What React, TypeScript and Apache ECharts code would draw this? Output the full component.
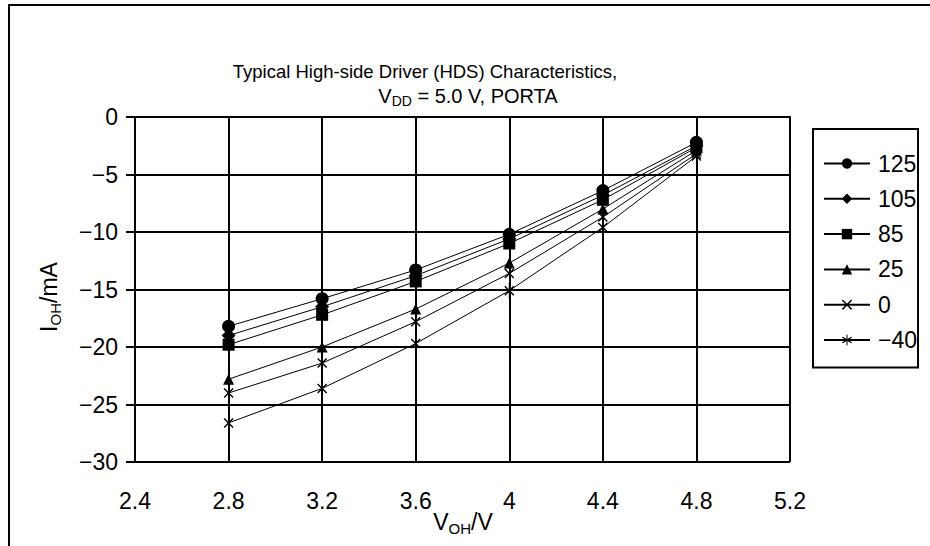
import React, { useEffect, useRef } from "react";
import * as echarts from "echarts";

const xValues = [2.8, 3.2, 3.6, 4.0, 4.4, 4.8];
const seriesNames = ["125", "105", "85", "25", "0", "−40"];
const s125 = [-18.2, -15.8, -13.3, -10.2, -6.4, -2.2];
const s105 = [-19.0, -16.5, -13.8, -10.6, -6.8, -2.5];
const s85 = [-19.8, -17.2, -14.3, -11.0, -7.2, -2.65];
const s25 = [-22.8, -20.0, -16.7, -12.7, -8.0, -2.9];
const s0 = [-24.0, -21.4, -17.8, -13.6, -8.7, -3.2];
const sMinus40 = [-26.6, -23.6, -19.7, -15.1, -9.6, -3.4];
const seriesValues = [s125, s105, s85, s25, s0, sMinus40];

const FONT = '"Liberation Sans", Arial, Helvetica, sans-serif';

const crossPath =
  "path://M0,1 L1,0 L5,4 L9,0 L10,1 L6,5 L10,9 L9,10 L5,6 L1,10 L0,9 L4,5 Z";
const starPath =
  "path://M0,4 L1,3 L5,7 L9,3 L10,4 L6,8 L10,12 L9,13 L5,9 L1,13 L0,12 L4,8 Z M4.5,0 L5.5,0 L5.5,16 L4.5,16 Z";

const symbols: any[] = ["circle", "diamond", "rect", "triangle", crossPath, starPath];
const symbolSizes: any[] = [13, 14, 12, 11, 10, [10, 16]];

const fmtNum = (v: number) => {
  const r = Math.round(v * 10) / 10;
  return String(r).replace("-", "\u2212");
};

export default function App() {
  const ref = useRef<HTMLDivElement>(null);
  useEffect(() => {
    document.body.style.margin = "0";
    const chart = echarts.init(ref.current!, null, { renderer: "svg" });
    const series = seriesNames.map((name, i) => ({
      name,
      type: "line",
      data: xValues.map((x, j) => [x, seriesValues[i][j]]),
      symbol: symbols[i],
      symbolSize: symbolSizes[i],
      showAllSymbol: true,
      lineStyle: { color: "#000", width: 1 },
      itemStyle: { color: "#000" },
      z: 3,
    }));
    const titleRich = {
      n: { fontSize: 20, fontFamily: FONT, color: "#000", lineHeight: 24, verticalAlign: "middle" },
      s: { fontSize: 14, fontFamily: FONT, color: "#000", lineHeight: 14, verticalAlign: "bottom" },
    };
    const nameRich = {
      n: { fontSize: 23, fontFamily: FONT, color: "#000", lineHeight: 28, verticalAlign: "middle" },
      s: { fontSize: 15, fontFamily: FONT, color: "#000", lineHeight: 15, verticalAlign: "bottom" },
    };
    chart.setOption({
      animation: false,
      backgroundColor: "#fff",
      grid: { left: 135, top: 117, width: 655, height: 345, containLabel: false },
      xAxis: {
        type: "value",
        min: 2.4,
        max: 5.2,
        interval: 0.4,
        axisLine: { show: true, lineStyle: { color: "#000", width: 2 } },
        axisTick: { show: true, length: 8, lineStyle: { color: "#000", width: 2 } },
        axisLabel: { color: "#000", fontSize: 23, fontFamily: FONT, margin: 27, formatter: fmtNum },
        splitLine: { show: true, lineStyle: { color: "#000", width: 2 } },
      },
      yAxis: {
        type: "value",
        min: -30,
        max: 0,
        interval: 5,
        axisLine: { show: true, lineStyle: { color: "#000", width: 2 } },
        axisTick: { show: true, length: 9, lineStyle: { color: "#000", width: 2 } },
        axisLabel: { color: "#000", fontSize: 23, fontFamily: FONT, margin: 17, formatter: fmtNum },
        splitLine: { show: true, lineStyle: { color: "#000", width: 2 } },
      },
      legend: {
        orient: "vertical",
        left: 813,
        top: 129,
        padding: [23, 1, 16, 10],
        borderColor: "#000",
        borderWidth: 2,
        itemWidth: 46,
        itemHeight: 13,
        itemGap: 12.3,
        data: seriesNames,
        textStyle: { color: "#000", fontSize: 23, fontFamily: FONT, lineHeight: 22, padding: [0, 0, 0, 3] },
      },
      graphic: [
        { type: "line", shape: { x1: 8, y1: 5, x2: 930, y2: 5 }, style: { stroke: "#000", lineWidth: 2 } },
        { type: "line", shape: { x1: 9, y1: 4, x2: 9, y2: 546 }, style: { stroke: "#000", lineWidth: 2 } },
        {
          type: "text",
          x: 425,
          y: 71,
          style: {
            text: "Typical High-side Driver (HDS) Characteristics,",
            fontSize: 18.5,
            fontFamily: FONT,
            fill: "#000",
            align: "center",
            verticalAlign: "middle",
          },
        },
        {
          type: "text",
          x: 468,
          y: 96,
          style: {
            text: "{n|V}{s|DD}{n| = 5.0 V, PORTA}",
            rich: titleRich,
            align: "center",
            verticalAlign: "middle",
          },
        },
        {
          type: "text",
          x: 463,
          y: 522,
          style: {
            text: "{n|V}{s|OH}{n|/V}",
            rich: nameRich,
            align: "center",
            verticalAlign: "middle",
          },
        },
        {
          type: "text",
          x: 49,
          y: 297,
          rotation: Math.PI / 2,
          style: {
            text: "{n|I}{s|OH}{n|/mA}",
            rich: nameRich,
            align: "center",
            verticalAlign: "middle",
          },
        },
      ],
      series,
    });
    return () => chart.dispose();
  }, []);
  return <div ref={ref} style={{ width: 930, height: 546 }} />;
}
